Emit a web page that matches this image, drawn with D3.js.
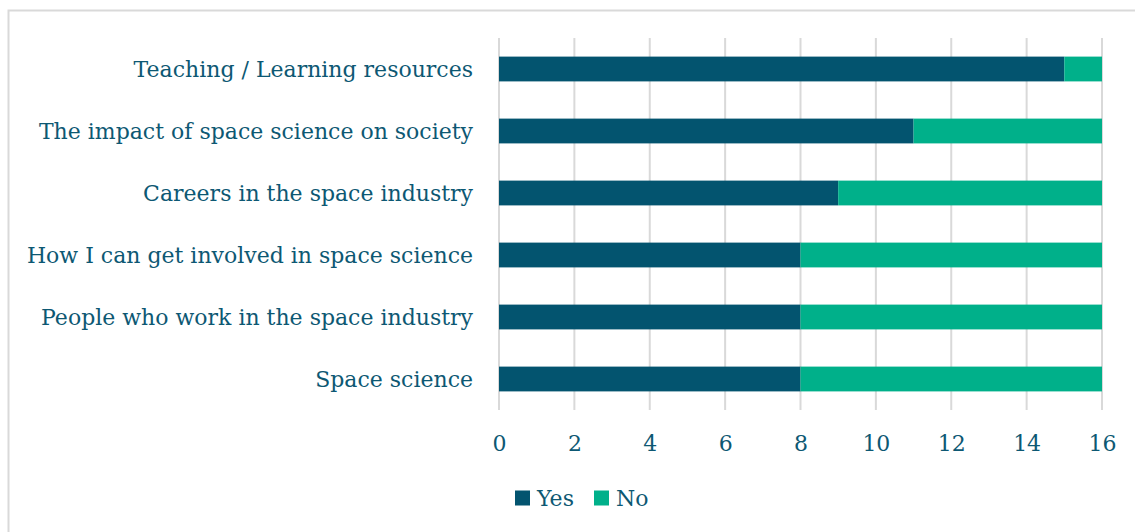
<!DOCTYPE html>
<html>
<head>
<meta charset="utf-8">
<script src="https://cdn.jsdelivr.net/npm/d3@7"></script>
<style>
  body { margin: 0; background: #fff; }
  text { font-family: "DejaVu Serif", serif; fill: #0d5873; }
</style>
</head>
<body>
<div id="chart"></div>
<script>
// chart data
var categories = [
  'Teaching / Learning resources',
  'The impact of space science on society',
  'Careers in the space industry',
  'How I can get involved in space science',
  'People who work in the space industry',
  'Space science'
];
var yesValues = [15, 11, 9, 8, 8, 8];
var noValues = [1, 5, 7, 8, 8, 8];
var xTicks = [0, 2, 4, 6, 8, 10, 12, 14, 16];
var seriesNames = ['Yes', 'No'];
var colors = ['#03546f', '#00b08a'];

var svgWidth = 1135;
var svgHeight = 532;

var svg = d3.select('#chart')
  .append('svg')
  .attr('width', svgWidth)
  .attr('height', svgHeight);

// frame border
svg.append('path')
  .attr('d', 'M8.5,' + svgHeight + ' V10.5 H' + svgWidth)
  .attr('fill', 'none')
  .attr('stroke', '#d9d9d9')
  .attr('stroke-width', 2);

var xScale = d3.scaleLinear()
  .domain([0, 16])
  .range([499, 1102]);

var yScale = d3.scaleBand()
  .domain(categories)
  .range([38, 410])
  .paddingInner(0.6)
  .paddingOuter(0.3);

// gridlines
svg.append('g')
  .selectAll('line')
  .data(xTicks)
  .enter()
  .append('line')
  .attr('x1', d => xScale(d))
  .attr('x2', d => xScale(d))
  .attr('y1', 38)
  .attr('y2', 410)
  .attr('stroke', '#d9d9d9')
  .attr('stroke-width', 2);

var rows = categories.map(function(c, i) {
  return { cat: c, yes: yesValues[i], no: noValues[i] };
});

svg.append('g').selectAll('rect')
  .data(rows)
  .enter()
  .append('rect')
  .attr('x', d => xScale(0))
  .attr('y', d => yScale(d.cat))
  .attr('width', d => xScale(d.yes) - xScale(0))
  .attr('height', yScale.bandwidth())
  .attr('fill', colors[0]);

svg.append('g').selectAll('rect')
  .data(rows)
  .enter()
  .append('rect')
  .attr('x', d => xScale(d.yes))
  .attr('y', d => yScale(d.cat))
  .attr('width', d => xScale(d.yes + d.no) - xScale(d.yes))
  .attr('height', yScale.bandwidth())
  .attr('fill', colors[1]);

// category labels
svg.append('g').selectAll('text')
  .data(categories)
  .enter()
  .append('text')
  .attr('x', 473)
  .attr('y', d => yScale(d) + yScale.bandwidth() / 2)
  .attr('dy', '0.35em')
  .attr('text-anchor', 'end')
  .style('font-size', '22px')
  .text(d => d);

// x axis
var bottomAxis = d3.axisBottom(xScale)
  .tickValues(xTicks)
  .tickSize(0)
  .tickPadding(0);

var xAxis = svg.append('g')
  .attr('transform', 'translate(0, 435)')
  .call(bottomAxis);
xAxis.select('.domain').remove();
xAxis.selectAll('text')
  .attr('dy', '0.35em')
  .attr('y', 8)
  .style('font-size', '22px')
  .style('font-family', '"DejaVu Serif", serif')
  .attr('fill', '#0d5873');

// legend
var legendX = [515, 594];
var legend = svg.append('g').selectAll('g')
  .data(seriesNames)
  .enter()
  .append('g')
  .attr('transform', (d, i) => 'translate(' + legendX[i] + ', 498)');

legend.append('rect')
  .attr('x', 0)
  .attr('y', -7.5)
  .attr('width', 15)
  .attr('height', 15)
  .attr('fill', (d, i) => colors[i]);

legend.append('text')
  .attr('x', 22)
  .attr('dy', '0.35em')
  .style('font-size', '22px')
  .text(d => d);
</script>
</body>
</html>
